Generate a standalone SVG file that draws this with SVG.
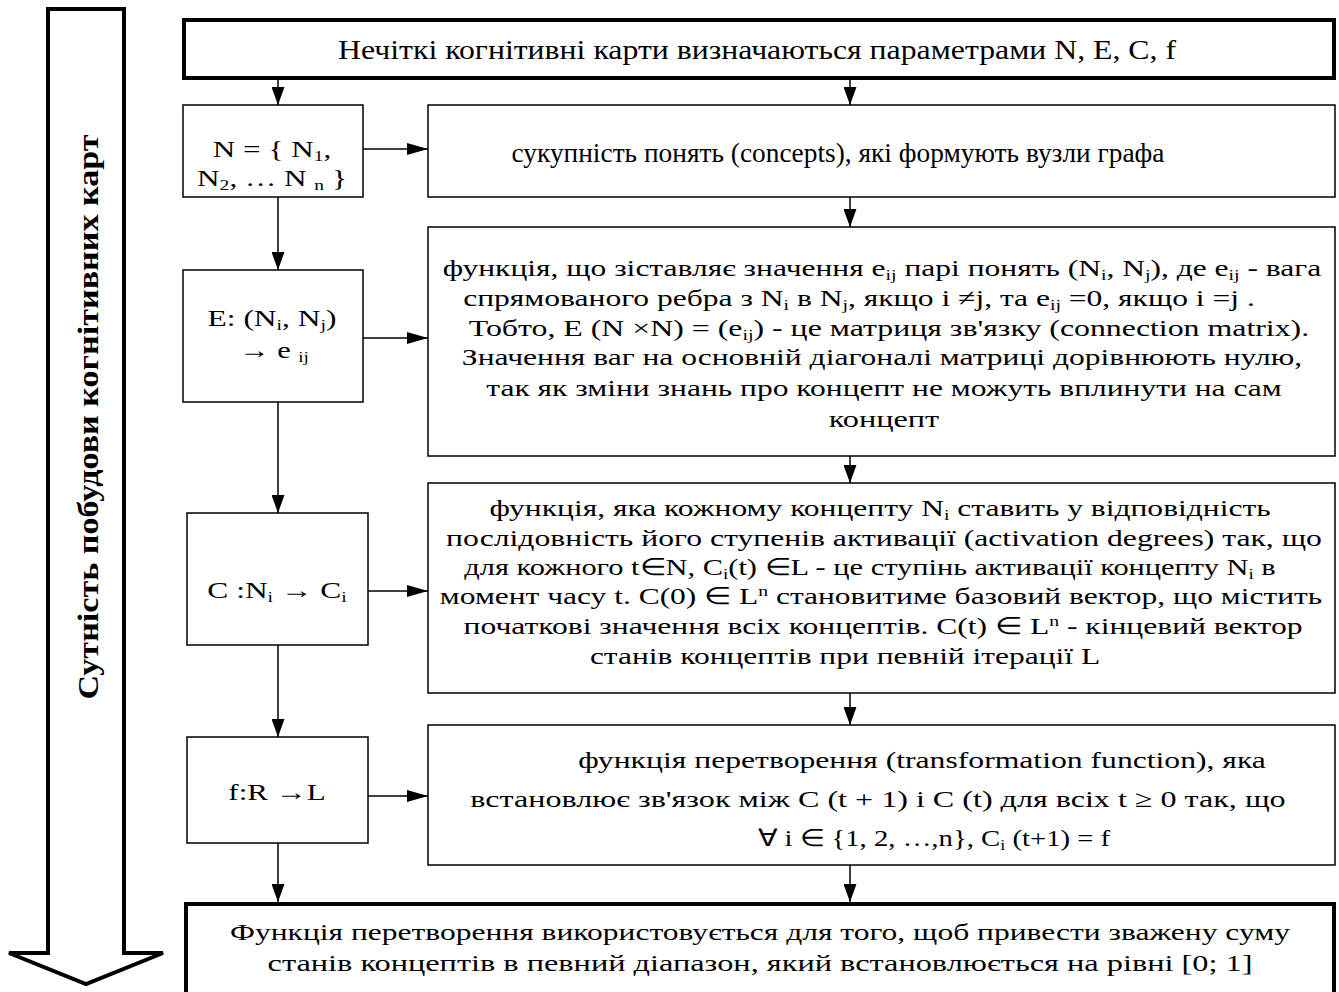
<svg xmlns="http://www.w3.org/2000/svg" width="1339" height="992" viewBox="0 0 1339 992">
<defs>
<style>
.box{fill:#fff;stroke:#000;stroke-width:1.5}
.thick{fill:#fff;stroke:#000;stroke-width:4}
.t{font-family:"Liberation Serif","Times New Roman",serif;font-size:24px;fill:#000;text-anchor:middle}
.cond{font-size:28px}
.lbl{font-family:"Liberation Serif","Times New Roman",serif;font-size:30px;font-weight:bold;fill:#000;text-anchor:middle}
.v{stroke:#000;stroke-width:1.5;fill:none;marker-end:url(#ahv)}
.h{stroke:#000;stroke-width:1.5;fill:none;marker-end:url(#ahh)}
.s{font-size:15px;baseline-shift:-4px}
.p{font-size:15px;baseline-shift:8px}
</style>
<marker id="ahv" markerUnits="userSpaceOnUse" markerWidth="18" markerHeight="13" refX="18" refY="6.5" orient="auto">
<path d="M0,0 L18,6.5 L0,13 Z" fill="#000"/>
</marker>
<marker id="ahh" markerUnits="userSpaceOnUse" markerWidth="21" markerHeight="12" refX="21" refY="6" orient="auto">
<path d="M0,0 L21,6 L0,12 Z" fill="#000"/>
</marker>
</defs>
<rect width="1339" height="992" fill="#fff"/>

<g id="side-arrow">
<path d="M48,9 L124,9 L124,953 L163,953 L86,984 L9,953 L48,953 Z" class="thick" stroke-linejoin="miter"/>
<text class="lbl" transform="translate(98,417) rotate(-90)" textLength="565" lengthAdjust="spacingAndGlyphs">Сутність побудови когнітивних карт</text>
</g>

<g id="connectors">
<line class="v" x1="278" y1="80" x2="278" y2="105"/>
<line class="v" x1="850" y1="70" x2="850" y2="105"/>
<line class="h" x1="363" y1="149" x2="428" y2="149"/>
<line class="v" x1="850" y1="197" x2="850" y2="227"/>
<line class="v" x1="278" y1="197" x2="278" y2="270"/>
<line class="h" x1="363" y1="338" x2="428" y2="338"/>
<line class="v" x1="850" y1="456" x2="850" y2="483"/>
<line class="v" x1="278" y1="402" x2="278" y2="513"/>
<line class="h" x1="368" y1="591" x2="428" y2="591"/>
<line class="v" x1="850" y1="693" x2="850" y2="725"/>
<line class="v" x1="278" y1="645" x2="278" y2="737"/>
<line class="h" x1="368" y1="796" x2="428" y2="796"/>
<line class="v" x1="278" y1="843" x2="278" y2="902"/>
<line class="v" x1="850" y1="865" x2="850" y2="902"/>
</g>

<g id="top">
<rect class="thick" x="184" y="20" width="1150" height="58"/>
<text class="t cond" x="757" y="59" textLength="838" lengthAdjust="spacingAndGlyphs">Нечіткі когнітивні карти визначаються параметрами N, E, C, f</text>
</g>

<g id="n-node">
<rect class="box" x="183" y="105" width="180" height="92"/>
<text class="t" transform="matrix(1.315 0 0 1 272 0)" x="0" y="157" textLength="90" lengthAdjust="spacingAndGlyphs">N = { N<tspan class="s">1</tspan>,</text>
<text class="t" transform="matrix(1.315 0 0 1 272 0)" x="0" y="186" textLength="114" lengthAdjust="spacingAndGlyphs">N<tspan class="s">2</tspan>, … N <tspan class="s">n</tspan> }</text>
</g>

<g id="n-desc">
<rect class="box" x="428" y="105" width="907" height="92"/>
<text class="t cond" x="838" y="162" textLength="653" lengthAdjust="spacingAndGlyphs">сукупність понять (concepts), які формують вузли графа</text>
</g>

<g id="e-node">
<rect class="box" x="183" y="270" width="180" height="132"/>
<text class="t" transform="matrix(1.315 0 0 1 272 0)" x="0" y="326" textLength="98" lengthAdjust="spacingAndGlyphs">E: (N<tspan class="s">i</tspan>, N<tspan class="s">j</tspan>)</text>
<text class="t" transform="matrix(1.315 0 0 1 274 0)" x="0" y="358" textLength="53" lengthAdjust="spacingAndGlyphs">→ e <tspan class="s">ij</tspan></text>
</g>

<g id="e-desc">
<rect class="box" x="428" y="227" width="907" height="229"/>
<text class="t" transform="matrix(1.315 0 0 1 882 0)" x="0" y="276" textLength="668" lengthAdjust="spacingAndGlyphs">функція, що зіставляє значення e<tspan class="s">ij</tspan> парі понять (N<tspan class="s">i</tspan>, N<tspan class="s">j</tspan>), де e<tspan class="s">ij</tspan> - вага</text>
<text class="t" transform="matrix(1.315 0 0 1 859 0)" x="0" y="306" textLength="602" lengthAdjust="spacingAndGlyphs">спрямованого ребра з N<tspan class="s">i</tspan> в N<tspan class="s">j</tspan>, якщо i ≠j,  та e<tspan class="s">ij</tspan> =0, якщо i =j .</text>
<text class="t" transform="matrix(1.315 0 0 1 889 0)" x="0" y="336" textLength="639" lengthAdjust="spacingAndGlyphs">Тобто, E (N ×N) = (e<tspan class="s">ij</tspan>) - це матриця зв'язку (connection matrix).</text>
<text class="t" transform="matrix(1.315 0 0 1 882 0)" x="0" y="365" textLength="639" lengthAdjust="spacingAndGlyphs">Значення ваг на основній діагоналі матриці дорівнюють нулю,</text>
<text class="t" transform="matrix(1.315 0 0 1 884 0)" x="0" y="396" textLength="605" lengthAdjust="spacingAndGlyphs">так як зміни знань про концепт не можуть вплинути на сам</text>
<text class="t" transform="matrix(1.315 0 0 1 884 0)" x="0" y="427" textLength="84" lengthAdjust="spacingAndGlyphs">концепт</text>
</g>

<g id="c-node">
<rect class="box" x="187" y="513" width="181" height="132"/>
<text class="t" transform="matrix(1.315 0 0 1 277 0)" x="0" y="598" textLength="106" lengthAdjust="spacingAndGlyphs">C :N<tspan class="s">i</tspan> → C<tspan class="s">i</tspan></text>
</g>

<g id="c-desc">
<rect class="box" x="428" y="483" width="907" height="210"/>
<text class="t" transform="matrix(1.315 0 0 1 880 0)" x="0" y="516" textLength="594" lengthAdjust="spacingAndGlyphs">функція, яка кожному концепту N<tspan class="s">i</tspan> ставить у відповідність</text>
<text class="t" transform="matrix(1.315 0 0 1 884 0)" x="0" y="546" textLength="666" lengthAdjust="spacingAndGlyphs">послідовність його ступенів активації (activation degrees) так, що</text>
<text class="t" transform="matrix(1.315 0 0 1 870 0)" x="0" y="575" textLength="617" lengthAdjust="spacingAndGlyphs">для кожного t∈N, C<tspan class="s">i</tspan>(t) ∈L - це ступінь активації концепту N<tspan class="s">i</tspan> в</text>
<text class="t" transform="matrix(1.315 0 0 1 881 0)" x="0" y="604" textLength="671" lengthAdjust="spacingAndGlyphs">момент часу t. C(0) ∈ L<tspan class="p">n</tspan> становитиме базовий вектор, що містить</text>
<text class="t" transform="matrix(1.315 0 0 1 883 0)" x="0" y="634" textLength="638" lengthAdjust="spacingAndGlyphs">початкові значення всіх концептів. C(t) ∈ L<tspan class="p">n</tspan> - кінцевий вектор</text>
<text class="t" transform="matrix(1.315 0 0 1 845 0)" x="0" y="664" textLength="388" lengthAdjust="spacingAndGlyphs">станів концептів при певній ітерації L</text>
</g>

<g id="f-node">
<rect class="box" x="187" y="737" width="181" height="106"/>
<text class="t" transform="matrix(1.315 0 0 1 277 0)" x="0" y="800" textLength="74" lengthAdjust="spacingAndGlyphs">f:R →L</text>
</g>

<g id="f-desc">
<rect class="box" x="428" y="725" width="907" height="140"/>
<text class="t" transform="matrix(1.315 0 0 1 922 0)" x="0" y="768" textLength="523" lengthAdjust="spacingAndGlyphs">функція перетворення (transformation function), яка</text>
<text class="t" transform="matrix(1.315 0 0 1 878 0)" x="0" y="807" textLength="620" lengthAdjust="spacingAndGlyphs">встановлює зв'язок між C (t + 1) і C (t) для всіх t ≥ 0 так, що</text>
<text class="t" transform="matrix(1.315 0 0 1 934 0)" x="0" y="846" textLength="268" lengthAdjust="spacingAndGlyphs">∀ i ∈ {1, 2, …,n}, C<tspan class="s">i</tspan> (t+1) = f</text>
</g>

<g id="bottom">
<rect class="thick" x="186" y="904" width="1148" height="100"/>
<text class="t" transform="matrix(1.315 0 0 1 760 0)" x="0" y="940" textLength="806" lengthAdjust="spacingAndGlyphs">Функція перетворення використовується для того, щоб привести зважену суму</text>
<text class="t" transform="matrix(1.315 0 0 1 760 0)" x="0" y="971" textLength="749" lengthAdjust="spacingAndGlyphs">станів концептів в певний діапазон, який встановлюється на рівні [0; 1]</text>
</g>
</svg>
